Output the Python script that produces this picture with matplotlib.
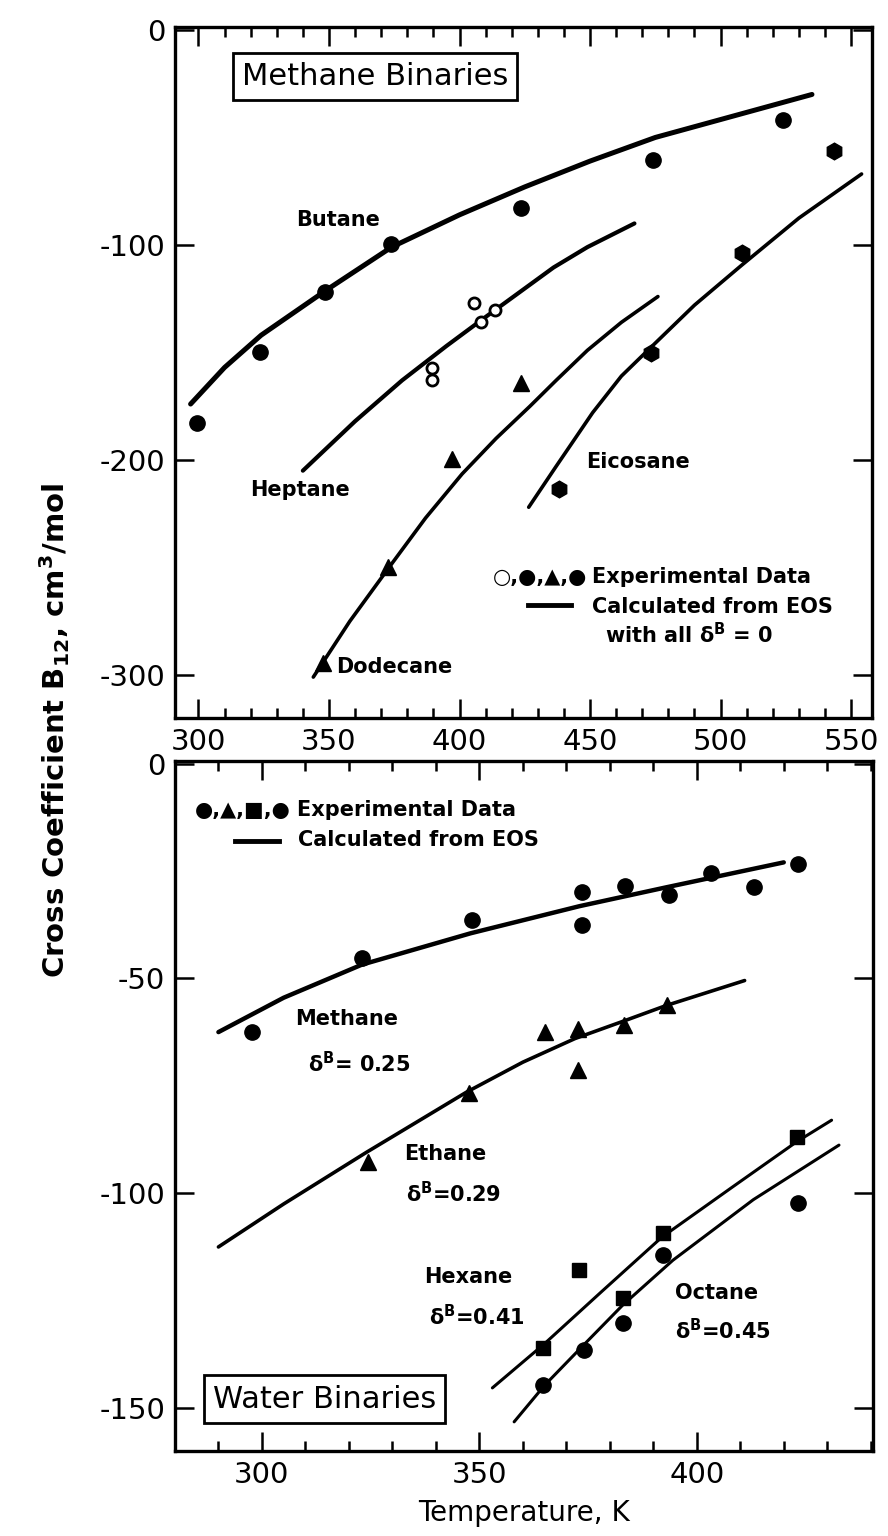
import matplotlib
matplotlib.use("Agg")
import matplotlib.pyplot as plt
from matplotlib.lines import Line2D
from matplotlib.ticker import MultipleLocator

plt.rcParams["font.family"] = ["DejaVu Sans"]
plt.rcParams["axes.unicode_minus"] = False
plt.rcParams["mathtext.fontset"] = "dejavusans"
plt.rcParams["mathtext.default"] = "regular"

# ---- top panel: methane binaries (T in K, B12 in cm3/mol) ----
butane_T = [299.6, 323.6, 348.5, 373.6, 423.7, 474, 524]
butane_B = [-182.6, -149.6, -121.7, -99.7, -82.6, -60.5, -41.9]
heptane_T = [389.3, 389.3, 405.5, 408.4, 413.5]
heptane_B = [-157.2, -162.8, -126.8, -135.7, -130.2]
dodecane_T = [347.6, 372.7, 397.3, 423.7]
dodecane_B = [-294.6, -249.6, -199.7, -164.3]
eicosane_T = [438.1, 473.2, 508.3, 543.6]
eicosane_B = [-213.5, -150.4, -103.6, -56.3]

# EOS curves
butane_fit_T = [297, 310, 324, 349, 374, 400, 425, 450, 475, 505, 535]
butane_fit_B = [-174, -157, -142, -121, -101, -86, -73, -61, -50, -40, -30]
heptane_fit_T = [340, 360, 378, 395, 410, 423, 436, 449, 467]
heptane_fit_B = [-205, -182, -163, -147, -133.5, -122, -110.5, -101, -90]
dodecane_fit_T = [344, 358, 373, 387, 401, 414, 427, 437, 449, 462, 476]
dodecane_fit_B = [-301, -275, -250, -227, -206.5, -190, -175, -163, -149, -136, -124]
eicosane_fit_T = [426.5, 437, 451, 462, 473, 490, 508, 530, 554]
eicosane_fit_B = [-222, -203, -178, -161, -148, -128, -109.5, -87.5, -67]

# ---- bottom panel: water binaries ----
methane_T = [297.7, 323, 348.3, 373.6, 373.6, 383.5, 393.5, 403.3, 413.2, 423.2]
methane_B = [-62.5, -45.3, -36.5, -29.8, -37.5, -28.4, -30.5, -25.5, -28.8, -23.3]
ethane_T = [324.3, 347.6, 365.1, 372.8, 372.8, 383.2, 393.1]
ethane_B = [-92.7, -76.7, -62.5, -61.7, -71.4, -60.9, -56.3]
hexane_T = [364.7, 373, 383, 392.2, 423]
hexane_B = [-136.1, -117.9, -124.3, -109.2, -86.9]
octane_T = [364.7, 374.1, 383, 392.2, 423.3]
octane_B = [-144.7, -136.4, -130.1, -114.4, -102.3]

methane_fit_T = [290, 305, 323, 348, 373, 393, 420]
methane_fit_B = [-62.5, -54.5, -46.8, -39.5, -33.2, -28.8, -23]
ethane_fit_T = [290, 305, 324, 347, 360, 372, 383, 393, 411]
ethane_fit_B = [-112.5, -102.5, -90.5, -76.5, -69.5, -64, -60, -56.3, -50.5]
hexane_fit_T = [353, 365, 378, 392, 408, 423, 431]
hexane_fit_B = [-145.3, -135, -123, -110.2, -98.7, -88, -83]
octane_fit_T = [358, 365, 374, 383, 394.5, 413, 432.7]
octane_fit_B = [-153.2, -144.7, -135.3, -126, -115.6, -101.5, -88.8]

fig = plt.figure(figsize=(8.88, 15.36), dpi=100)
ax1 = fig.add_axes([0.197, 0.5326, 0.785, 0.450])
ax2 = fig.add_axes([0.197, 0.0553, 0.786, 0.449])

lab = dict(fontsize=15, fontweight="bold")
box = dict(boxstyle="square,pad=0.3", fc="white", ec="black", lw=2)
key = [Line2D([], [], color="black", lw=3.5)]

# top panel
ax1.plot(butane_fit_T, butane_fit_B, color="black", lw=3.6, solid_capstyle="round", solid_joinstyle="round")
ax1.plot(heptane_fit_T, heptane_fit_B, color="black", lw=3.0, solid_capstyle="round", solid_joinstyle="round")
ax1.plot(dodecane_fit_T, dodecane_fit_B, color="black", lw=2.6, solid_capstyle="round", solid_joinstyle="round")
ax1.plot(eicosane_fit_T, eicosane_fit_B, color="black", lw=2.6, solid_capstyle="round", solid_joinstyle="round")
ax1.plot(butane_T, butane_B, "o", color="black", ms=11)
ax1.plot(heptane_T, heptane_B, "o", mfc="white", mec="black", mew=2, ms=8)
ax1.plot(dodecane_T, dodecane_B, "^", color="black", ms=12)
ax1.plot(eicosane_T, eicosane_B, "h", color="black", ms=12)

ax1.text(353.4, -88.4, "Butane", ha="center", va="center", **lab)
ax1.text(338.9, -214, "Heptane", ha="center", va="center", **lab)
ax1.text(352.9, -296.4, "Dodecane", ha="left", va="center", **lab)
ax1.text(448.6, -200.8, "Eicosane", ha="left", va="center", **lab)
ax1.text(367.6, -21.5, "Methane Binaries", ha="center", va="center",
         fontsize=22, bbox=box)
ax1.text(412.7, -254.3, "○,●,▲,●", ha="left", va="center", **lab)
ax1.text(450.6, -254.3, "Experimental Data", ha="left", va="center", **lab)
ax1.legend(handles=key, labels=[" "], loc="center", bbox_to_anchor=(0.540, 0.162),
           frameon=False, fontsize=10, handlelength=3.1, handletextpad=0,
           borderpad=0, borderaxespad=0)
ax1.text(450.6, -268.2, "Calculated from EOS", ha="left", va="center", **lab)
ax1.text(455.6, -281.4, "with all δ$^{B}$ = 0", ha="left", va="center", **lab)

ax1.set_xlim(291, 558)
ax1.set_ylim(-320, 1.5)
ax1.set_xticks([300, 350, 400, 450, 500, 550])
ax1.xaxis.set_minor_locator(MultipleLocator(10))
ax1.set_yticks([0, -100, -200, -300])

# bottom panel
ax2.plot(methane_fit_T, methane_fit_B, color="black", lw=3.2, solid_capstyle="round", solid_joinstyle="round")
ax2.plot(ethane_fit_T, ethane_fit_B, color="black", lw=2.6, solid_capstyle="round", solid_joinstyle="round")
ax2.plot(hexane_fit_T, hexane_fit_B, color="black", lw=2.2, solid_capstyle="round", solid_joinstyle="round")
ax2.plot(octane_fit_T, octane_fit_B, color="black", lw=2.2, solid_capstyle="round", solid_joinstyle="round")
ax2.plot(methane_T, methane_B, "o", color="black", ms=11)
ax2.plot(ethane_T, ethane_B, "^", color="black", ms=11)
ax2.plot(hexane_T, hexane_B, "s", color="black", ms=10)
ax2.plot(octane_T, octane_B, "o", color="black", ms=11)

ax2.text(284.7, -10.9, "●,▲,■,●", ha="left", va="center", **lab)
ax2.text(308, -10.9, "Experimental Data", ha="left", va="center", **lab)
ax2.legend(handles=key, labels=[" "], loc="center", bbox_to_anchor=(0.1206, 0.883),
           frameon=False, fontsize=10, handlelength=3.2, handletextpad=0,
           borderpad=0, borderaxespad=0)
ax2.text(308.4, -17.9, "Calculated from EOS", ha="left", va="center", **lab)
ax2.text(307.7, -59.4, "Methane", ha="left", va="center", **lab)
ax2.text(310.7, -69.8, "δ$^{B}$= 0.25", ha="left", va="center", **lab)
ax2.text(332.7, -90.8, "Ethane", ha="left", va="center", **lab)
ax2.text(333.2, -100.1, "δ$^{B}$=0.29", ha="left", va="center", **lab)
ax2.text(337.4, -119.5, "Hexane", ha="left", va="center", **lab)
ax2.text(338.5, -128.8, "δ$^{B}$=0.41", ha="left", va="center", **lab)
ax2.text(395, -123.3, "Octane", ha="left", va="center", **lab)
ax2.text(395, -131.9, "δ$^{B}$=0.45", ha="left", va="center", **lab)
ax2.text(314.4, -147.9, "Water Binaries", ha="center", va="center",
         fontsize=22, bbox=box)

ax2.set_xlim(280, 440.5)
ax2.set_ylim(-160, 0.5)
ax2.set_xticks([300, 350, 400])
ax2.xaxis.set_minor_locator(MultipleLocator(10))
ax2.set_yticks([0, -50, -100, -150])

for ax in (ax1, ax2):
    for s in ax.spines.values():
        s.set_linewidth(2.4)
    ax.tick_params(which="both", direction="in", top=True, right=True,
                   width=1.8, labelsize=21)
    ax.tick_params(which="major", length=14, pad=7)
    ax.tick_params(which="minor", length=7)
    ax.tick_params(axis="y", which="minor", left=False, right=False)

fig.text(55 / 888, 1 - 730 / 1536,
         r"Cross Coefficient B$_{12}$, cm$^{3}$/mol",
         rotation=90, ha="center", va="center", fontsize=21, fontweight="bold")
fig.text(524 / 888, 1 - 1513 / 1536, "Temperature, K",
         ha="center", va="center", fontsize=20)

fig.savefig("out.png", dpi=100)
